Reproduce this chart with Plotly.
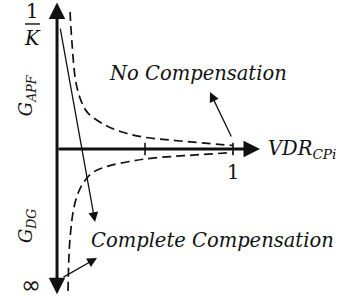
import plotly.graph_objects as go

# ---- data (schematic units: x = VDR_CPi, y = normalised gain; 1 = 1/K, -1 = infinity) ----
vdr_ticks = [0.5, 1.0]
tick_labels = ["", "1"]

apf_x = [0.074, 0.085, 0.108, 0.142, 0.176, 0.273, 0.369, 0.489, 0.70, 1.0]
apf_y = [0.972, 0.752, 0.468, 0.326, 0.255, 0.170, 0.121, 0.085, 0.057, 0.025]

dg_x = [0.0625, 0.074, 0.102, 0.142, 0.199, 0.290, 0.426, 0.545, 0.75, 1.0]
dg_y = [-1.007, -0.631, -0.383, -0.255, -0.170, -0.121, -0.085, -0.064, -0.045, -0.025]

FONT = "DejaVu Serif"
BLACK = "#111111"

fig = go.Figure()
fig.add_trace(go.Scatter(x=apf_x, y=apf_y, mode="lines",
                         line=dict(color=BLACK, width=1.7, dash="9px,5px", shape="spline"),
                         hoverinfo="skip"))
fig.add_trace(go.Scatter(x=dg_x, y=dg_y, mode="lines",
                         line=dict(color=BLACK, width=1.7, dash="9px,5px", shape="spline"),
                         hoverinfo="skip"))

shapes = []
for t in vdr_ticks:
    shapes.append(dict(type="line", xref="x", yref="y", x0=t, x1=t, y0=-0.045, y1=0.045,
                       line=dict(color=BLACK, width=1.6)))
# fraction bar of 1/K
shapes.append(dict(type="line", xref="x", yref="y", x0=-0.182, x1=-0.097, y0=0.887, y1=0.887,
                   line=dict(color=BLACK, width=1.4)))

ann = []
def arrow(x0, y0, x1, y1, width, size, head=2, side="end"):
    ann.append(dict(x=x1, y=y1, ax=x0, ay=y0, xref="x", yref="y", axref="x", ayref="y",
                    text="", showarrow=True, arrowhead=head, arrowsize=size,
                    arrowwidth=width, arrowcolor=BLACK, arrowside=side,
                    startarrowhead=head, startarrowsize=size, standoff=0, startstandoff=0))

# axes
arrow(0, 0, 1.153, 0, 3, 1.1)
arrow(0, -1.04, 0, 1.04, 3, 1.1, side="end+start")
# pointer arrows
arrow(0.017, 0.865, 0.216, -0.518, 1.3, 1.5)
arrow(0.028, -0.915, 0.227, -0.773, 1.3, 1.5)
arrow(0.994, 0.078, 0.869, 0.404, 1.3, 1.5)

def label(x, y, text, size=19.5, italic=True, angle=0, xanchor="center", family=FONT):
    ann.append(dict(x=x, y=y, xref="x", yref="y", text=text, showarrow=False,
                    textangle=angle, xanchor=xanchor, yanchor="middle",
                    font=dict(family=family, size=size, color=BLACK,
                              style="italic" if italic else "normal")))

label(0.801, 0.539, "No Compensation")
label(0.886, -0.652, "Complete Compensation")
label(1.19, 0.0, "VDR<sub>CPi</sub>", xanchor="left")
for t, lab in zip(vdr_ticks, tick_labels):
    if lab:
        label(t, -0.163, lab, italic=False)
label(-0.140, 0.972, "1", italic=False)
label(-0.140, 0.787, "K")
label(-0.170, 0.383, "G<sub>APF</sub>", angle=-90, size=18)
label(-0.170, -0.546, "G<sub>DG</sub>", angle=-90, size=18)
label(-0.150, -0.965, "∞", italic=False, size=24, family="DejaVu Sans")

fig.update_layout(
    width=342, height=302, margin=dict(l=0, r=0, t=0, b=0),
    paper_bgcolor="white", plot_bgcolor="white", showlegend=False,
    xaxis=dict(range=[-0.324, 1.619], visible=False, fixedrange=True),
    yaxis=dict(range=[-1.085, 1.057], visible=False, fixedrange=True),
    shapes=shapes, annotations=ann,
)
fig.write_html("out.html", config={"displayModeBar": False},
               post_script="document.body.style.margin='0';")
